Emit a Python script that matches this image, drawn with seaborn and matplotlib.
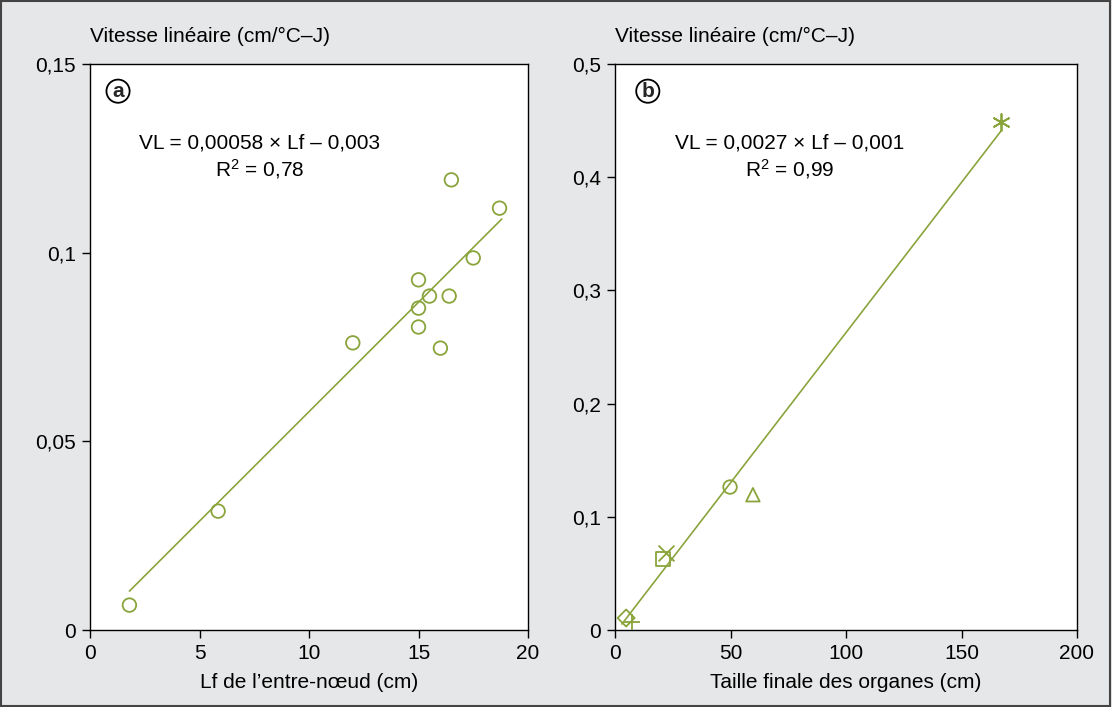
import numpy as np
import pandas as pd
import matplotlib
matplotlib.use("Agg")
import matplotlib.pyplot as plt
import seaborn as sns
from matplotlib.patches import Rectangle
from matplotlib.ticker import FixedLocator, FixedFormatter

# ---- data ----
a_lf = [1.8, 5.85, 12.0, 15.0, 15.0, 15.0, 15.5, 16.4, 16.0, 16.5, 17.5, 18.7]
a_vl = [0.0066, 0.0315, 0.0761, 0.0928, 0.0853, 0.0803, 0.0885, 0.0885, 0.0747, 0.1193, 0.0986, 0.1118]
a_fit_x = [1.8, 18.8]
a_fit_y = [0.0103, 0.1089]

b_size = [4.8, 7.4, 20.8, 22.1, 49.8, 59.7, 167.1]
b_vl = [0.0106, 0.0071, 0.0627, 0.068, 0.1263, 0.1195, 0.449]
b_marker = ["D", "+", "s", "x", "o", "^", "asterisk"]
b_fit_x = [3.0, 167.1]
b_fit_y = [0.0053, 0.4408]

a_xticks = [0, 5, 10, 15, 20]
a_yticks = [0, 0.05, 0.1, 0.15]
a_yticklabels = ["0", "0,05", "0,1", "0,15"]
b_xticks = [0, 50, 100, 150, 200]
b_yticks = [0, 0.1, 0.2, 0.3, 0.4, 0.5]
b_yticklabels = ["0", "0,1", "0,2", "0,3", "0,4", "0,5"]

ylabel = "Vitesse linéaire (cm/°C–J)"
a_xlabel = "Lf de l’entre-nœud (cm)"
b_xlabel = "Taille finale des organes (cm)"
a_eq = ["VL = 0,00058 × Lf – 0,003", "R$^{\\mathbf{2}}$ = 0,78"]
b_eq = ["VL = 0,0027 × Lf – 0,001", "R$^{\\mathbf{2}}$ = 0,99"]

GREEN = "#8aa43c"
BG = "#e6e7e8"

sns.set_style("white")
plt.rcParams["font.family"] = ["Liberation Sans", "DejaVu Sans"]
plt.rcParams["mathtext.fontset"] = "custom"
plt.rcParams["mathtext.rm"] = "Liberation Sans"
plt.rcParams["mathtext.bf"] = "Liberation Sans"
plt.rcParams["mathtext.it"] = "Liberation Sans:italic"
FS = 15

fig = plt.figure(figsize=(11.12, 7.07), dpi=100, facecolor=BG)
W, H = 1112, 707
ax_a = fig.add_axes([90 / W, 1 - 630 / H, (528 - 90) / W, (630 - 64) / H])
ax_b = fig.add_axes([615 / W, 1 - 630 / H, (1077 - 615) / W, (630 - 64) / H])

# panel a
df_a = pd.DataFrame({"lf": a_lf, "vl": a_vl})
sns.lineplot(x=a_fit_x, y=a_fit_y, ax=ax_a, color=GREEN, lw=1.2)
sns.scatterplot(data=df_a, x="lf", y="vl", ax=ax_a, marker="o", s=95,
                color=GREEN, facecolor="none", edgecolor=GREEN, linewidth=1.3, zorder=3)

# panel b
sns.lineplot(x=b_fit_x, y=b_fit_y, ax=ax_b, color=GREEN, lw=1.2)
for xv, yv, m in zip(b_size, b_vl, b_marker):
    if m in ("+", "x"):
        sns.scatterplot(x=[xv], y=[yv], ax=ax_b, marker=m, s=130, color=GREEN,
                        linewidth=1.3, zorder=3)
    elif m == "asterisk":
        sns.scatterplot(x=[xv], y=[yv], ax=ax_b, marker=(6, 2, 0), s=150, color=GREEN,
                        linewidth=1.3, zorder=3)
    else:
        size = {"D": 75, "s": 95, "o": 95, "^": 95}[m]
        sns.scatterplot(x=[xv], y=[yv], ax=ax_b, marker=m, s=size, color=GREEN,
                        facecolor="none", edgecolor=GREEN, linewidth=1.3, zorder=3)

def style(ax, xticks, yticks, ylabels, xlabel, xlim, ylim, letter, eq, letter_x, eq_x):
    ax.set_facecolor("white")
    ax.set_xlim(*xlim)
    ax.set_ylim(*ylim)
    ax.xaxis.set_major_locator(FixedLocator(xticks))
    ax.xaxis.set_major_formatter(FixedFormatter([str(t) for t in xticks]))
    ax.yaxis.set_major_locator(FixedLocator(yticks))
    ax.yaxis.set_major_formatter(FixedFormatter(ylabels))
    ax.tick_params(axis="both", direction="out", length=6, width=1, color="black",
                   labelsize=FS, labelcolor="black", pad=4, bottom=True, left=True)
    for sp in ax.spines.values():
        sp.set_visible(True)
        sp.set_color("black")
        sp.set_linewidth(1.0)
    ax.set_xlabel(xlabel, fontsize=FS, labelpad=7, color="black")
    ax.set_ylabel("")
    ax.text(0.0, 1.048, ylabel, transform=ax.transAxes, ha="left", va="center",
            fontsize=FS, color="black")
    ax.text(letter_x, 0.952, letter, transform=ax.transAxes, ha="center", va="center",
            fontsize=FS, fontweight="bold",
            bbox=dict(boxstyle="circle,pad=0.1", fc="none", ec="black", lw=1.3))
    ax.text(eq_x, 0.860, eq[0], transform=ax.transAxes, ha="center", va="center",
            fontsize=FS, color="black")
    ax.text(eq_x, 0.815, eq[1], transform=ax.transAxes, ha="center", va="center",
            fontsize=FS, color="black")

style(ax_a, a_xticks, a_yticks, a_yticklabels, a_xlabel, (0, 20), (0, 0.15), "a", a_eq, 0.064, 0.388)
style(ax_b, b_xticks, b_yticks, b_yticklabels, b_xlabel, (0, 200), (0, 0.5), "b", b_eq, 0.071, 0.379)

fig.patches.append(Rectangle((0.001, 0.001), 0.997, 0.997, transform=fig.transFigure,
                             fill=False, ec="#444444", lw=1.5))

fig.savefig("out.png", dpi=100, facecolor=BG)
